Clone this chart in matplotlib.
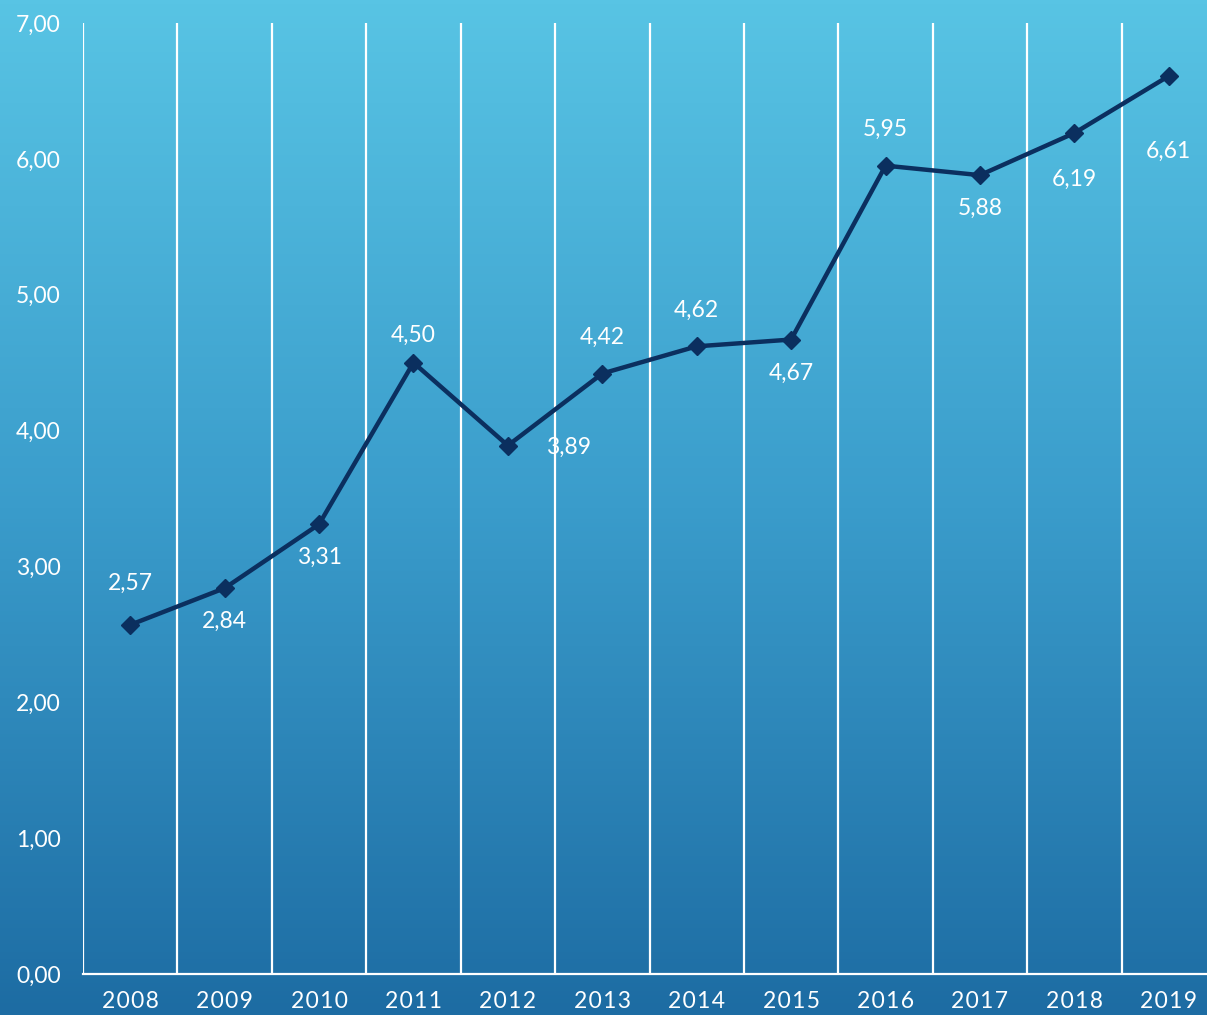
import numpy as np
import matplotlib
matplotlib.use("Agg")
import matplotlib.pyplot as plt
from matplotlib.colors import LinearSegmentedColormap

years = ["2008", "2009", "2010", "2011", "2012", "2013",
         "2014", "2015", "2016", "2017", "2018", "2019"]
values = [2.57, 2.84, 3.31, 4.50, 3.89, 4.42, 4.62, 4.67, 5.95, 5.88, 6.19, 6.61]
# where each data label sits relative to its point
label_pos = ["above", "below", "below", "above", "right", "above",
             "above", "below", "above", "below", "below", "below"]
y_ticks = [0, 1, 2, 3, 4, 5, 6, 7]

FONT = ["Lato", "DejaVu Sans"]
LINE = "#0b2f5f"
FS = 16.5

fig = plt.figure(figsize=(12.07, 10.15), dpi=100)

# gradient background over the whole figure
bg = fig.add_axes([0, 0, 1, 1], zorder=0)
cmap = LinearSegmentedColormap.from_list("bg", ["#1d6ca3", "#3a9ccb", "#58c4e4"])
grad = np.linspace(0, 1, 256).reshape(-1, 1)
bg.imshow(grad, aspect="auto", cmap=cmap, origin="lower", extent=[0, 1, 0, 1])
bg.axis("off")

W, H = 1207, 1015
left, right, top, bottom = 83, 1216, 23, 974
ax = fig.add_axes([left / W, 1 - bottom / H, (right - left) / W, (bottom - top) / H], zorder=1)
ax.patch.set_alpha(0)

x = np.arange(len(years))
ax.set_xlim(-0.5, len(years) - 0.5)
ax.set_ylim(0, 7)

# vertical gridlines at category boundaries
for b in np.arange(-0.5, len(years) - 0.5, 1.0):
    ax.axvline(b, color="white", lw=1.6, zorder=1)

ax.plot(x, values, color=LINE, lw=3.2, marker="D", markersize=9,
        markerfacecolor=LINE, markeredgecolor=LINE, zorder=3)

# small per-label nudges (points) so labels land where the original puts them
nudge = {0: 4, 3: -6, 10: -9, 11: -30}
for i, (xi, v, pos) in enumerate(zip(x, values, label_pos)):
    txt = f"{v:.2f}".replace(".", ",")
    kw = dict(textcoords="offset points", color="white", fontsize=FS,
              family=FONT)
    if pos == "above":
        ax.annotate(txt, (xi, v), xytext=(0, 26 + nudge.get(i, 0)),
                    ha="center", va="center", **kw)
    elif pos == "below":
        ax.annotate(txt, (xi, v), xytext=(0, -24 + nudge.get(i, 0)),
                    ha="center", va="center", **kw)
    else:
        ax.annotate(txt, (xi, v), xytext=(44, -1), ha="center", va="center", **kw)

for s in ["top", "right", "left"]:
    ax.spines[s].set_visible(False)
ax.spines["bottom"].set_color("white")
ax.spines["bottom"].set_linewidth(1.6)

ax.set_yticks(y_ticks)
ax.set_yticklabels([f"{t:.2f}".replace(".", ",") for t in y_ticks])
ax.set_xticks(x)
ax.set_xticklabels(["\u200a".join(y) for y in years])
ax.tick_params(axis="both", length=0, colors="white", labelsize=FS)
ax.tick_params(axis="y", pad=16)
ax.tick_params(axis="x", pad=12)
for lbl in ax.get_xticklabels() + ax.get_yticklabels():
    lbl.set_family(FONT)

fig.savefig("out.png", dpi=100)
